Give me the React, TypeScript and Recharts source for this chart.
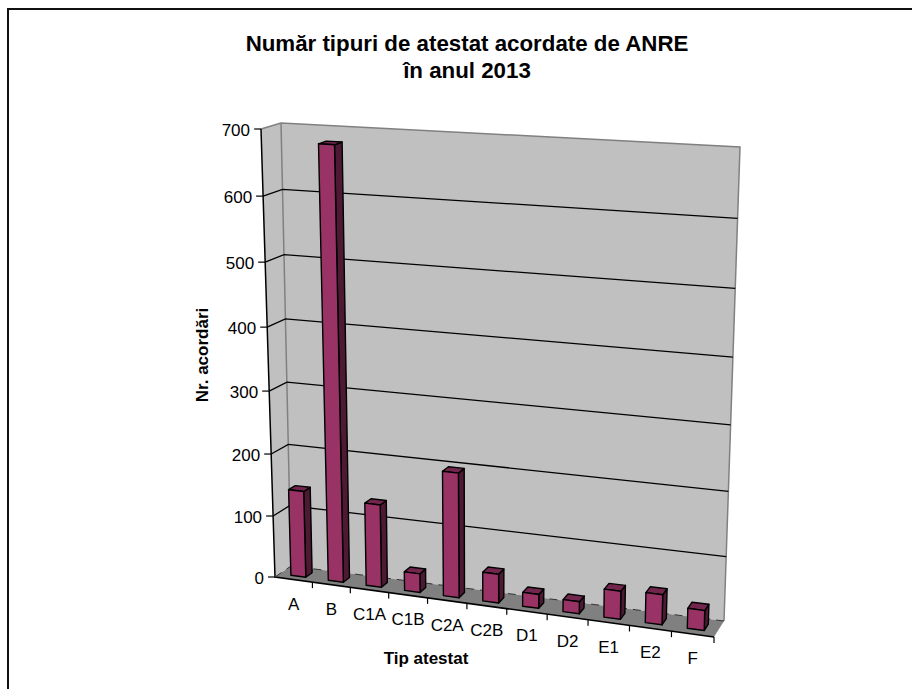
import React from "react";
import { Bar, BarChart, CartesianGrid, ReferenceArea, XAxis, YAxis } from "recharts";

const categories = ["A", "B", "C1A", "C1B", "C2A", "C2B", "D1", "D2", "E1", "E2", "F"];
const values = [140, 680, 133, 30, 198, 46, 22, 19, 44, 47, 31];
const yTicks = [0, 100, 200, 300, 400, 500, 600, 700];

const data = categories.map((name, i) => ({ name, value: values[i] }));

const FONT = "'Liberation Sans', Arial, sans-serif";
const PLOT = { left: 275, top: 130, width: 440, height: 447 };
const DEPTH_FRONT = 0.3;
const DEPTH_BACK = 0.7;

type Pt = [number, number];

// unit square -> quad, corners: bottom left, bottom right, top right, top left
function makeHomography(q: Pt[]) {
  const [[x0, y0], [x1, y1], [x2, y2], [x3, y3]] = q;
  const dx1 = x1 - x2, dx2 = x3 - x2, sx = x0 - x1 + x2 - x3;
  const dy1 = y1 - y2, dy2 = y3 - y2, sy = y0 - y1 + y2 - y3;
  const det = dx1 * dy2 - dx2 * dy1;
  const g = (sx * dy2 - dx2 * sy) / det;
  const h = (dx1 * sy - sx * dy1) / det;
  const a = x1 - x0 + g * x1, b = x3 - x0 + h * x3;
  const d = y1 - y0 + g * y1, e = y3 - y0 + h * y3;
  return (u: number, v: number): Pt => {
    const w = g * u + h * v + 1;
    return [(a * u + b * v + x0) / w, (d * u + e * v + y0) / w];
  };
}

const frontPlane = makeHomography([[275, 577], [714, 637], [726, 158], [261, 129]]);
const backPlane = makeHomography([[291, 566], [724, 621], [740, 147], [281, 123]]);

function project(u: number, v: number, depth: number): Pt {
  const f = frontPlane(u, v);
  const b = backPlane(u, v);
  return [f[0] + (b[0] - f[0]) * depth, f[1] + (b[1] - f[1]) * depth];
}

const toPoints = (pts: Pt[]) => pts.map((p) => `${p[0].toFixed(1)},${p[1].toFixed(1)}`).join(" ");
const flatU = (x: number) => (x - PLOT.left) / PLOT.width;
const flatV = (y: number) => (PLOT.top + PLOT.height - y) / PLOT.height;

function Walls() {
  return (
    <g>
      <polygon
        points={toPoints([project(0, 0, 0), project(0, 1, 0), project(0, 1, 1), project(1, 1, 1), project(1, 0, 1), project(0, 0, 1)])}
        fill="#c0c0c0"
      />
      <polygon points={toPoints([project(0, 0, 0), project(0, 0, 1), project(1, 0, 1), project(1, 0, 0)])} fill="#808080" />
      <polyline
        points={toPoints([project(0, 1, 0), project(0, 1, 1), project(1, 1, 1), project(1, 0, 1)])}
        fill="none"
        stroke="#808080"
        strokeWidth={1.5}
      />
      <line x1={project(0, 0, 1)[0]} y1={project(0, 0, 1)[1]} x2={project(0, 1, 1)[0]} y2={project(0, 1, 1)[1]} stroke="#808080" strokeWidth={1.5} />
      <polyline points={toPoints([project(0, 1, 0), project(0, 0, 0), project(1, 0, 0)])} fill="none" stroke="#000" strokeWidth={1.5} />
    </g>
  );
}

function GridLine(props: any) {
  const v = flatV(props.y1);
  if (v > 0.99) return <g key={props.key} />;
  const pts = toPoints([project(0, v, 0), project(0, v, 1), project(1, v, 1)]);
  if (v < 0.01) {
    return <polyline key={props.key} points={pts} fill="none" stroke="#333" strokeWidth={1} strokeDasharray="8 6" />;
  }
  return <polyline key={props.key} points={pts} fill="none" stroke="#000" strokeWidth={1.3} />;
}

function Bar3D(props: any) {
  const { x, y, width } = props;
  const u0 = flatU(x);
  const u1 = flatU(x + width);
  const v = flatV(y);
  const stroke = { stroke: "#000", strokeWidth: 1.4, strokeLinejoin: "round" as const };
  return (
    <g>
      <polygon
        points={toPoints([project(u1, 0, DEPTH_FRONT), project(u1, v, DEPTH_FRONT), project(u1, v, DEPTH_BACK), project(u1, 0, DEPTH_BACK)])}
        fill="#4d1933"
        {...stroke}
      />
      <polygon
        points={toPoints([project(u0, v, DEPTH_FRONT), project(u1, v, DEPTH_FRONT), project(u1, v, DEPTH_BACK), project(u0, v, DEPTH_BACK)])}
        fill="#73264d"
        {...stroke}
      />
      <polygon
        points={toPoints([project(u0, 0, DEPTH_FRONT), project(u1, 0, DEPTH_FRONT), project(u1, v, DEPTH_FRONT), project(u0, v, DEPTH_FRONT)])}
        fill="#993366"
        {...stroke}
      />
    </g>
  );
}

function XTick(props: any) {
  const u = flatU(props.payload.coordinate);
  const [lx, ly] = project(u, 0, 0);
  const [tx, ty] = project((props.index + 1) / categories.length, 0, 0);
  return (
    <g>
      <line x1={tx} y1={ty} x2={tx} y2={ty + 6} stroke="#000" strokeWidth={1.2} />
      <text x={lx} y={ly + 30} textAnchor="middle" fontFamily={FONT} fontSize={17} fill="#000">
        {props.payload.value}
      </text>
    </g>
  );
}

function YTick(props: any) {
  const [x, y] = project(0, flatV(props.y), 0);
  return (
    <g>
      <line x1={x - 7} y1={y} x2={x} y2={y} stroke="#000" strokeWidth={1.2} />
      <text x={x - 11} y={y + 7} textAnchor="end" fontFamily={FONT} fontSize={17} fill="#000">
        {props.payload.value}
      </text>
    </g>
  );
}

export default function App() {
  return (
    <div style={{ position: "absolute", left: 0, top: 0, width: 912, height: 689, overflow: "hidden", background: "#fff" }}>
      <div style={{ position: "absolute", left: 7, top: 8, right: -10, bottom: -10, borderTop: "2px solid #111", borderLeft: "2px solid #111" }} />
      <div
        style={{
          position: "absolute",
          left: 167,
          width: 600,
          top: 30,
          textAlign: "center",
          fontFamily: FONT,
          fontWeight: 700,
          fontSize: 22.3,
          lineHeight: "27px",
          color: "#000",
        }}
      >
        Număr tipuri de atestat acordate de ANRE
        <br />
        în anul 2013
      </div>
      <BarChart
        width={912}
        height={689}
        data={data}
        barCategoryGap="30%"
        margin={{
          left: PLOT.left - 1,
          top: PLOT.top,
          right: 912 - PLOT.left - PLOT.width,
          bottom: 689 - PLOT.top - PLOT.height - 1,
        }}
        style={{ position: "absolute", left: 0, top: 0 }}
      >
        <ReferenceArea y1={0} y2={700} shape={<Walls />} ifOverflow="visible" zIndex={-200} />
        <CartesianGrid vertical={false} horizontal={GridLine} />
        <XAxis
          dataKey="name"
          height={1}
          interval={0}
          axisLine={false}
          tickLine={false}
          tick={XTick}
          label={{
            content: () => (
              <text x={426} y={664} textAnchor="middle" fontFamily={FONT} fontWeight={700} fontSize={17} fill="#000">
                Tip atestat
              </text>
            ),
          }}
        />
        <YAxis
          type="number"
          domain={[0, 700]}
          ticks={yTicks}
          width={1}
          axisLine={false}
          tickLine={false}
          tick={YTick}
          label={{
            content: () => (
              <text x={208} y={355} transform="rotate(-90 208 355)" textAnchor="middle" fontFamily={FONT} fontWeight={700} fontSize={17} fill="#000">
                Nr. acordări
              </text>
            ),
          }}
        />
        <Bar dataKey="value" shape={Bar3D} isAnimationActive={false} />
      </BarChart>
    </div>
  );
}
